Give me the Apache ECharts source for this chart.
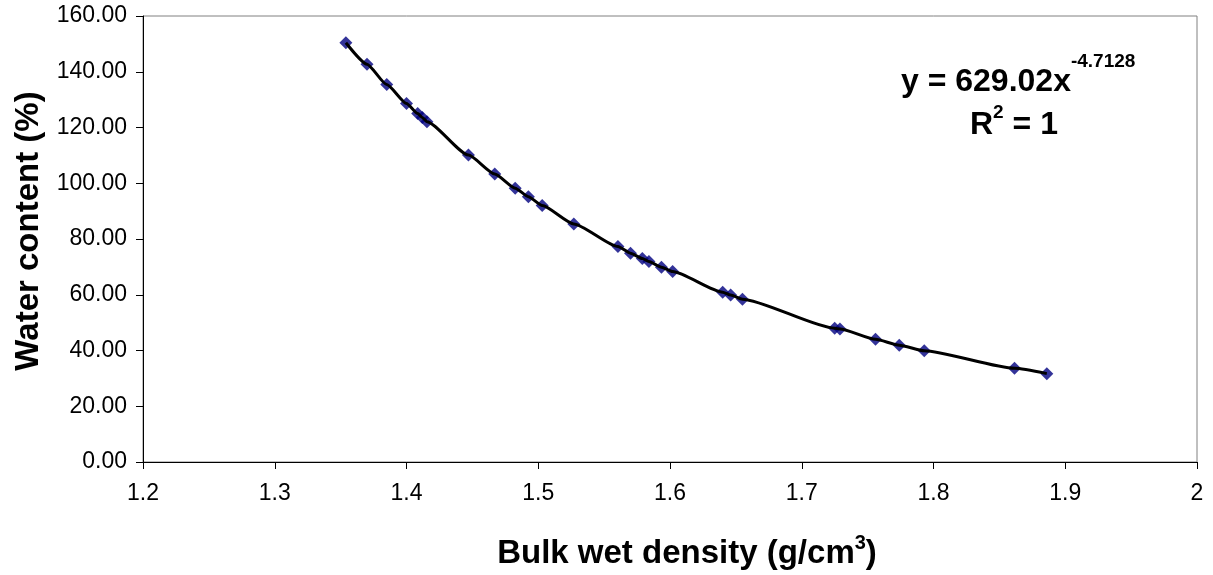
<!DOCTYPE html>
<html>
<head>
<meta charset="utf-8">
<script src="https://cdn.jsdelivr.net/npm/echarts@6/dist/echarts.min.js"></script>
<style>
html,body{margin:0;padding:0;background:#fff;}
#chart{width:1213px;height:575px;}
</style>
</head>
<body>
<div id="chart"></div>
<script>
// Bulk wet density (g/cm3)
var density = [1.354, 1.370, 1.385, 1.400, 1.4085, 1.412, 1.4155, 1.447, 1.467, 1.4825, 1.4925, 1.503, 1.527,
  1.5605, 1.570, 1.579, 1.584, 1.5935, 1.602, 1.640, 1.646, 1.655, 1.725, 1.729, 1.756, 1.774, 1.793, 1.8615, 1.886];
// Water content (%)
var waterContent = [150.4, 142.7, 135.4, 128.6, 125.0, 123.6, 122.1, 110.1, 103.3, 98.2, 95.2, 92.0, 85.4,
  77.3, 74.9, 73.0, 71.9, 69.9, 68.3, 60.9, 59.9, 58.4, 48.0, 47.7, 44.0, 41.9, 39.9, 33.6, 31.7];
var xTicks = {min: 1.2, max: 2, interval: 0.1};
var yTicks = {min: 0, max: 160, interval: 20};
var eqMain = 'y = 629.02x';
var eqExp = '-4.7128';
var r2Main = 'R';
var r2Sup = '2';
var r2Rest = ' = 1';

var pts = density.map(function (d, i) { return [d, waterContent[i]]; });
var FONT = '"Liberation Sans", Arial, sans-serif';

var chart = echarts.init(document.getElementById('chart'));
chart.setOption({
  animation: false,
  backgroundColor: '#fff',
  grid: {left: 143, right: 16, top: 16, bottom: 110, show: true, borderColor: '#808080', borderWidth: 1},
  xAxis: {
    type: 'value', min: xTicks.min, max: xTicks.max, interval: xTicks.interval,
    axisLine: {show: true, onZero: false, lineStyle: {color: '#000', width: 1}},
    axisTick: {show: true, length: 7, lineStyle: {color: '#000'}},
    splitLine: {show: false},
    axisLabel: {color: '#000', fontFamily: FONT, fontSize: 23, margin: 20,
      formatter: function (v) { return String(+v.toFixed(1)); }},
    name: '{b|Bulk wet density (g/cm}{s|3}{b|)}',
    nameLocation: 'middle', nameGap: 71,
    nameTextStyle: {
      padding: [0, 0, 0, 34],
      rich: {
        b: {fontFamily: FONT, fontWeight: 'bold', fontSize: 33, color: '#000', lineHeight: 37, verticalAlign: 'bottom'},
        s: {fontFamily: FONT, fontWeight: 'bold', fontSize: 20, color: '#000', lineHeight: 37, verticalAlign: 'top'}
      }
    }
  },
  yAxis: {
    type: 'value', min: yTicks.min, max: yTicks.max, interval: yTicks.interval,
    axisLine: {show: true, onZero: false, lineStyle: {color: '#000', width: 1}},
    axisTick: {show: true, length: 7, lineStyle: {color: '#000'}},
    splitLine: {show: false},
    axisLabel: {color: '#000', fontFamily: FONT, fontSize: 23, margin: 16,
      formatter: function (v) { return v.toFixed(2); }},
    name: 'Water content (%)',
    nameLocation: 'middle', nameGap: 97,
    nameTextStyle: {fontFamily: FONT, fontWeight: 'bold', fontSize: 33, color: '#000', padding: [0, 0, 0, 16]}
  },
  graphic: [
    {type: 'text', left: 901, top: 52, z: 100,
      style: {
        text: '{m|' + eqMain + '}{s|' + eqExp + '}',
        rich: {
          m: {fontFamily: FONT, fontWeight: 'bold', fontSize: 32, fill: '#000', lineHeight: 46, verticalAlign: 'bottom'},
          s: {fontFamily: FONT, fontWeight: 'bold', fontSize: 19, fill: '#000', lineHeight: 46, verticalAlign: 'top'}
        }
      }
    },
    {type: 'text', left: 970, top: 103, z: 100,
      style: {
        text: '{m|' + r2Main + '}{s|' + r2Sup + '}{m|' + r2Rest + '}',
        rich: {
          m: {fontFamily: FONT, fontWeight: 'bold', fontSize: 32, fill: '#000', lineHeight: 38, verticalAlign: 'bottom'},
          s: {fontFamily: FONT, fontWeight: 'bold', fontSize: 19, fill: '#000', lineHeight: 38, verticalAlign: 'top'}
        }
      }
    }
  ],
  series: [
    {type: 'scatter', data: pts, symbol: 'diamond', symbolSize: 13, z: 2,
      itemStyle: {color: '#000080'}},
    {type: 'line', data: pts, showSymbol: false, symbol: 'none', smooth: 0.2, smoothMonotone: 'x', z: 3,
      lineStyle: {color: '#000', width: 3}, silent: true}
  ]
});
</script>
</body>
</html>
